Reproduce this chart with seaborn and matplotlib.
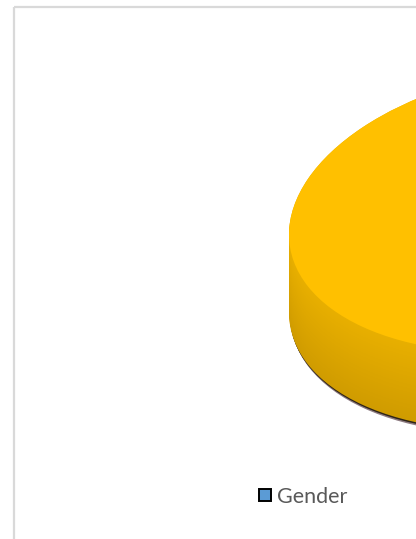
import numpy as np
import matplotlib
matplotlib.use("Agg")
import matplotlib.pyplot as plt
from matplotlib.patches import Rectangle
from matplotlib.lines import Line2D
from matplotlib.transforms import Affine2D
import seaborn as sns

# Chart data
categories = ["Gender"]
shares = [100]
slice_colors = ["#FFC000"]
legend_labels = ["Gender"]
legend_colors = ["#5B9BD5"]

sns.set_theme(style="white")
plt.rcParams["font.family"] = ["Lato", "DejaVu Sans"]

W, H = 416, 539
fig = plt.figure(figsize=(W / 100, H / 100), dpi=100)
fig.patch.set_facecolor("white")

# Chart area border (the plot area extends past the right and bottom edges)
border = fig.add_axes([0, 0, 1, 1])
border.set_xlim(0, W)
border.set_ylim(H, 0)
border.axis("off")
border.add_patch(Rectangle((14, 7), 600, 600, fill=False,
                           edgecolor="#D9D9D9", linewidth=1.6))

# Geometry of the tilted pie (pixels)
cx, cy = 540, 209      # centre of the top face
a, b = 251, 141        # horizontal / vertical semi-axes of the top face
depth = 78             # thickness of the disc
tilt = 0.102           # the near-left rim sits lower than the far-right rim

d = depth / b
ylo, yhi = -1 - d - 0.35, 1.35
left = (cx - a) / W
width = 2 * a / W
top_px = cy - yhi * b
height_px = (yhi - ylo) * b
ax = fig.add_axes([left, 1 - (top_px + height_px) / H, width, height_px / H])

shear = Affine2D(np.array([[1.0, 0.0, 0.0],
                           [tilt * a / b, 1.0, 0.0],
                           [0.0, 0.0, 1.0]]))


def disc(color, center=(0, 0), radius=1.0):
    wedges, _ = ax.pie(shares, colors=[color], startangle=90, radius=radius,
                       center=center, counterclock=False,
                       wedgeprops=dict(linewidth=0))
    for w in wedges:
        w.set_transform(shear + ax.transData)
    return wedges


# Drop shadow along the lower rim
disc("#2E2418", center=(0.004, -d - 0.016))
disc("#8C7A80", center=(0.006, -d - 0.026))
disc("#2E2418", center=(0.003, -d - 0.013))

# Side wall, built from stacked layers shaded darker toward the bottom
n_layers = 40
side_shades = sns.blend_palette(["#D09C00", "#E8AF00"], n_colors=n_layers)
for i in range(n_layers):
    disc(side_shades[i], center=(0, -d + d * i / (n_layers - 1)))

# Top face
disc(slice_colors[0])

ax.set_aspect("auto")
ax.set_xlim(-1, 1)
ax.set_ylim(ylo, yhi)
ax.axis("off")

# Legend
handles = [Line2D([0], [0], marker="s", linestyle="none", markersize=8.5,
                  markerfacecolor=c, markeredgecolor="black",
                  markeredgewidth=1.4) for c in legend_colors]
fig.legend(handles, legend_labels, loc="center left",
           bbox_to_anchor=(259 / W, 1 - 497 / H), frameon=False,
           fontsize=15.5, labelcolor="#595959", handlelength=0.6,
           handletextpad=0.25, borderpad=0, borderaxespad=0)

fig.savefig("out.png", dpi=100)
